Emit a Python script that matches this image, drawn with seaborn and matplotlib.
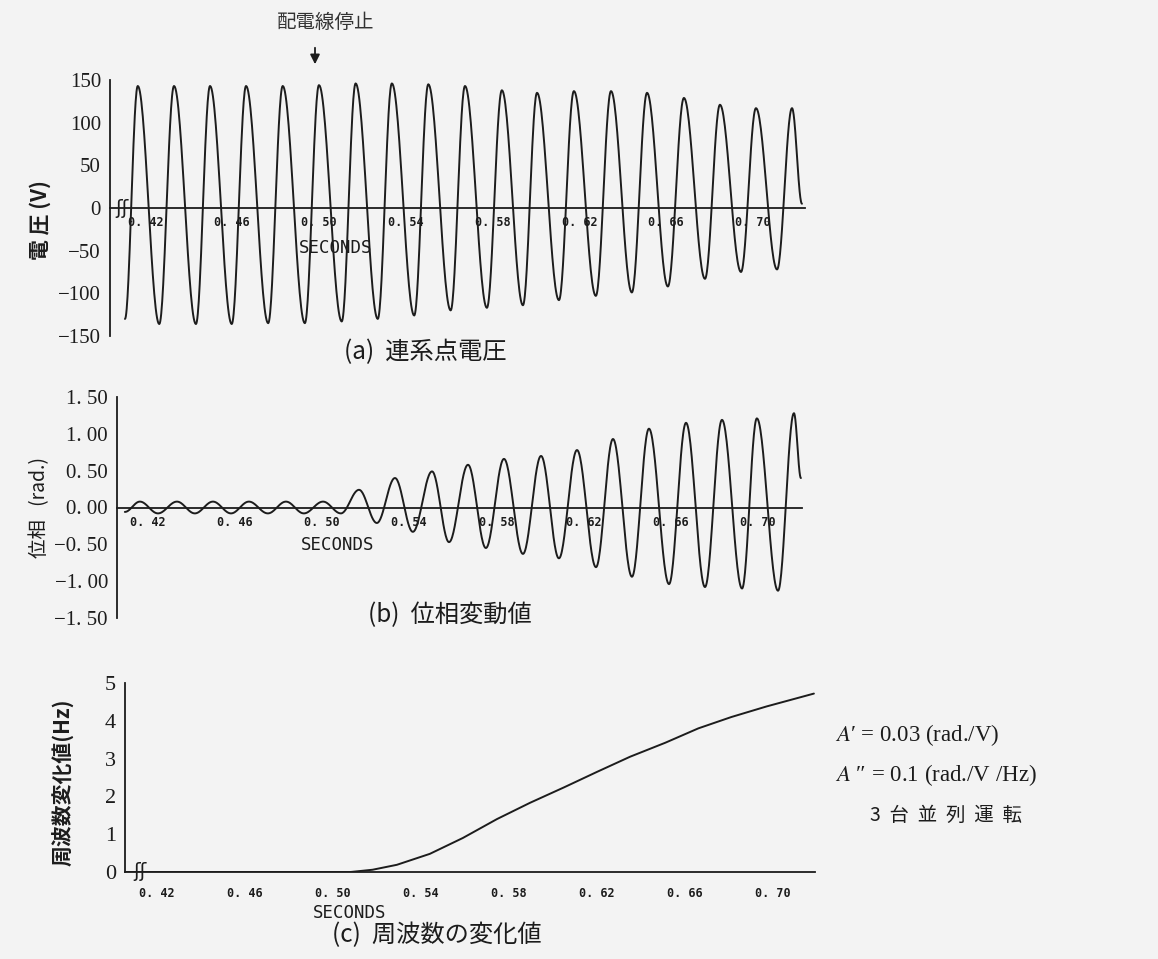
import numpy as np
import pandas as pd
import matplotlib
matplotlib.use("Agg")
import matplotlib.pyplot as plt
import seaborn as sns

# ---------------- data ----------------
# (a) voltage waveform: successive extremes (time s, volts)
volt_t = [0.4106, 0.4165, 0.4264, 0.4332, 0.4433, 0.4498, 0.4598, 0.4664, 0.4766, 0.4833,
          0.4935, 0.5000, 0.5105, 0.5169, 0.5271, 0.5336, 0.5439, 0.5504, 0.5607, 0.5673,
          0.5774, 0.5843, 0.5940, 0.6005, 0.6106, 0.6175, 0.6276, 0.6346, 0.6442, 0.6512,
          0.6608, 0.6682, 0.6779, 0.6848, 0.6945, 0.7014, 0.7111, 0.7180, 0.7226]
volt_v = [-130, 143, -136, 143, -136, 143, -136, 143, -135, 143,
          -135, 144, -133, 146, -130, 146, -126, 145, -120, 143,
          -117, 138, -114, 135, -108, 137, -103, 137, -99, 135,
          -92, 129, -83, 121, -75, 117, -72, 117, 5]

# (b) phase deviation: successive extremes (time s, rad)
phase_t = [0.4096, 0.4165, 0.4248, 0.4335, 0.4417, 0.4500, 0.4583, 0.4665, 0.4752, 0.4835,
           0.4917, 0.5005, 0.5087, 0.5170, 0.5252, 0.5335, 0.5417, 0.5505, 0.5583, 0.5670,
           0.5752, 0.5835, 0.5922, 0.6005, 0.6087, 0.6170, 0.6257, 0.6335, 0.6422, 0.6500,
           0.6592, 0.6670, 0.6757, 0.6835, 0.6927, 0.6995, 0.7092, 0.7165, 0.7197]
phase_v = [-0.06, 0.08, -0.08, 0.08, -0.08, 0.08, -0.08, 0.08, -0.08, 0.08,
           -0.08, 0.08, -0.08, 0.24, -0.21, 0.40, -0.33, 0.49, -0.47, 0.58,
           -0.55, 0.66, -0.63, 0.70, -0.69, 0.78, -0.81, 0.93, -0.94, 1.07,
           -1.04, 1.15, -1.08, 1.19, -1.10, 1.21, -1.13, 1.28, 0.40]

# (c) frequency change (time s, Hz)
freq_t = [0.4060, 0.4500, 0.4900, 0.5080, 0.5180, 0.5290, 0.5440, 0.5590, 0.5745, 0.5895,
          0.6050, 0.6200, 0.6350, 0.6510, 0.6660, 0.6810, 0.6970, 0.7185]
freq_v = [0.00, 0.00, 0.00, 0.00, 0.06, 0.19, 0.48, 0.90, 1.40, 1.83,
          2.24, 2.65, 3.05, 3.42, 3.80, 4.10, 4.38, 4.72]

x_ticks = [0.42, 0.44, 0.46, 0.48, 0.50, 0.52, 0.54, 0.56, 0.58, 0.60, 0.62, 0.64, 0.66, 0.68, 0.70]
x_labels = ["0. 42", "", "0. 46", "", "0. 50", "", "0. 54", "", "0. 58", "", "0. 62", "", "0. 66", "", "0. 70"]
ya_ticks = [-150, -100, -50, 0, 50, 100, 150]
ya_labels = ["\u2212150", "\u2212100", "\u221250", "0", "50", "100", "150"]
yb_ticks = [-1.5, -1.0, -0.5, 0.0, 0.5, 1.0, 1.5]
yb_labels = ["\u22121. 50", "\u22121. 00", "\u22120. 50", "0. 00", "0. 50", "1. 00", "1. 50"]
yc_ticks = [0, 1, 2, 3, 4, 5]
yc_labels = ["0", "1", "2", "3", "4", "5"]


def shape(times, values, n=30):
    """Join successive read extremes with half-cosine arcs (waveform shape)."""
    xs, ys = [], []
    for i in range(len(times) - 1):
        s = np.linspace(0, 1, n, endpoint=False)
        xs.append(times[i] + (times[i + 1] - times[i]) * s)
        ys.append(values[i] + (values[i + 1] - values[i]) * (1 - np.cos(np.pi * s)) / 2)
    xs.append([times[-1]])
    ys.append([values[-1]])
    return pd.DataFrame({"t": np.concatenate(xs), "v": np.concatenate(ys)})


sns.set_theme(style="white")
CJK = ["Noto Sans CJK JP", "DejaVu Sans"]
plt.rcParams["font.family"] = ["Liberation Serif", "DejaVu Serif"]
plt.rcParams["mathtext.fontset"] = "stix"

BG = "#f3f3f3"
INK = "#1c1c1c"
W, H = 1158, 959
fig = plt.figure(figsize=(W / 100, H / 100), dpi=100, facecolor=BG)


def frac(x0, y0, x1, y1):
    return [x0 / W, 1 - y1 / H, (x1 - x0) / W, (y1 - y0) / H]


def style_axis(ax, xlim, zero_spine=True, tick_dir="in", ylabelsize=15):
    ax.set_facecolor(BG)
    for s in ["top", "right"]:
        ax.spines[s].set_visible(False)
    for s in ["left", "bottom"]:
        ax.spines[s].set_color(INK)
        ax.spines[s].set_linewidth(1.3)
    if zero_spine:
        ax.spines["bottom"].set_position(("data", 0))
    ax.set_xlim(*xlim)
    ax.set_xticks(x_ticks)
    ax.set_xticklabels(x_labels, fontfamily="DejaVu Sans Mono", fontweight="bold", fontsize=8.5, color=INK)
    ax.tick_params(axis="x", direction=tick_dir, length=5, width=1.1, color=INK, pad=6)
    ax.tick_params(axis="y", direction="inout", length=7, width=1.1, color=INK, pad=3,
                   labelsize=ylabelsize, labelcolor=INK)
    ax.set_xlabel("")
    ax.set_ylabel("")


SEC = dict(ha="center", va="center", fontsize=12.5, fontfamily="DejaVu Sans Mono", color=INK)

# ---- (a) ----
axa = fig.add_axes(frac(110, 80, 805, 336))
sns.lineplot(data=shape(volt_t, volt_v), x="t", y="v", ax=axa, color=INK, lw=1.4,
             estimator=None, sort=False)
axa.set_ylim(-150, 150)
axa.set_yticks(ya_ticks)
axa.set_yticklabels(ya_labels)
style_axis(axa, (0.4037, 0.7240))
axa.text(0.4093, 0, "\u0283\u0283", ha="center", va="center", fontsize=14,
         fontfamily="DejaVu Sans", color=INK)
axa.text(0.5078, -47, "SECONDS", **SEC)

# ---- (b) ----
axb = fig.add_axes(frac(117, 397, 802, 618))
sns.lineplot(data=shape(phase_t, phase_v), x="t", y="v", ax=axb, color=INK, lw=1.4,
             estimator=None, sort=False)
axb.set_ylim(-1.5, 1.5)
axb.set_yticks(yb_ticks)
axb.set_yticklabels(yb_labels)
style_axis(axb, (0.4060, 0.7202))
axb.text(0.5073, -0.51, "SECONDS", **SEC)

# ---- (c) ----
axc = fig.add_axes(frac(125, 683, 815, 872))
sns.lineplot(x=freq_t, y=freq_v, ax=axc, color=INK, lw=1.4, estimator=None, sort=False)
axc.set_ylim(0, 5)
axc.set_yticks(yc_ticks)
axc.set_yticklabels(yc_labels)
style_axis(axc, (0.4055, 0.7190), zero_spine=False, tick_dir="out", ylabelsize=16)
axc.text(0.4125, 0.02, "\u0283\u0283", ha="center", va="center", fontsize=14,
         fontfamily="DejaVu Sans", color=INK)
axc.text(0.5077, -1.08, "SECONDS", clip_on=False, **SEC)


def ftext(x, y, s, **kw):
    fig.text(x / W, 1 - y / H, s, **kw)


# annotations
ftext(326, 22, "配電線停止", ha="center", va="center", fontsize=14, family=CJK, color="#333333")
fig.add_artist(matplotlib.patches.FancyArrowPatch(
    (315 / W, 1 - 45 / H), (315 / W, 1 - 67 / H), transform=fig.transFigure,
    arrowstyle="-|>", mutation_scale=14, color=INK, lw=1.3))

ftext(40, 220, "電 圧 (V)", rotation=90, ha="center", va="center", fontsize=15,
      family=CJK, fontweight="bold", color=INK)
ftext(40, 508, "位相   (rad.)", rotation=90, ha="center", va="center", fontsize=14,
      family=CJK, color=INK)
ftext(63, 782, "周波数変化値(Hz)", rotation=90, ha="center", va="center", fontsize=15,
      family=CJK, fontweight="bold", color=INK)

ftext(425, 352, "(a)  連系点電圧", ha="center", va="center", fontsize=17.5, family=CJK, color=INK)
ftext(450, 615, "(b)  位相変動値", ha="center", va="center", fontsize=17.5, family=CJK, color=INK)
ftext(437, 935, "(c)  周波数の変化値", ha="center", va="center", fontsize=17.5, family=CJK, color=INK)

ftext(835, 735, "$A$\u2032 = 0.03 (rad./V)", ha="left", va="center", fontsize=16.5, color=INK)
ftext(835, 775, "$A$ \u2033 = 0.1 (rad./V /Hz)", ha="left", va="center", fontsize=16.5, color=INK)
ftext(870, 815, "3  台  並  列  運  転", ha="left", va="center", fontsize=14, family=CJK, color=INK)

fig.savefig("out.png", dpi=100, facecolor=BG)
